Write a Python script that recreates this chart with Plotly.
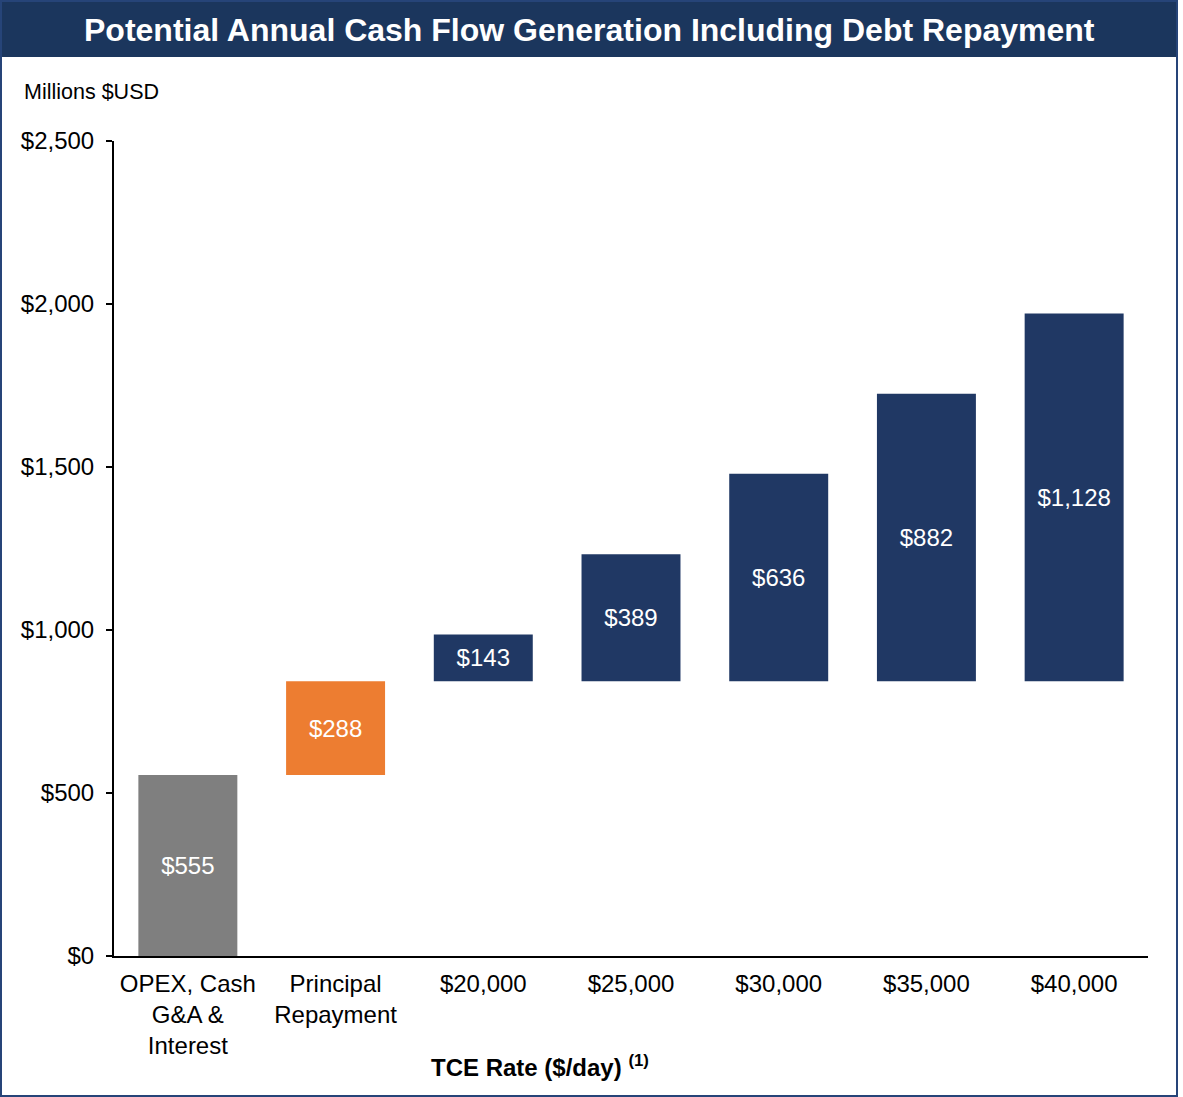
import plotly.graph_objects as go

# ---- data ----
categories = ["OPEX, Cash<br>G&A &<br>Interest", "Principal<br>Repayment",
              "$20,000", "$25,000", "$30,000", "$35,000", "$40,000"]
opex_value = 555
principal_value = 288
tce_values = [143, 389, 636, 882, 1128]
y_tickvals = [0, 500, 1000, 1500, 2000, 2500]
y_ticktext = ["$0", "$500", "$1,000", "$1,500", "$2,000", "$2,500"]

values = [opex_value, principal_value] + tce_values
breakeven = opex_value + principal_value
bases = [0, opex_value] + [breakeven] * len(tce_values)

GREY = "#7F7F7F"
ORANGE = "#ED7D31"
NAVY = "#203864"
TITLE_NAVY = "#1B365D"
BORDER = "#264478"
colors = [GREY, ORANGE] + [NAVY] * len(tce_values)

W, H = 1183, 1097
L, R, T, B = 114, 35, 141, 141
PW, PH = W - L - R, H - T - B


def px(x):
    return (x - L) / PW


def py(y):
    return (H - B - y) / PH


FONT = "Liberation Sans, Arial, sans-serif"

fig = go.Figure()
fig.add_trace(go.Bar(
    x=categories, y=values, base=bases,
    marker=dict(color=colors, line=dict(width=0)),
    text=[f"${v:,}" for v in values],
    textposition="inside", insidetextanchor="middle", textangle=0,
    textfont=dict(color="white", size=24, family=FONT),
    hoverinfo="skip", showlegend=False,
))

fig.update_layout(
    width=W, height=H,
    margin=dict(l=L, r=R, t=T, b=B),
    paper_bgcolor="white", plot_bgcolor="white",
    bargap=0.33,
    font=dict(family=FONT, color="black", size=24),
    uniformtext=dict(minsize=24, mode="show"),
    xaxis=dict(
        showline=True, linecolor="black", linewidth=2,
        ticks="", showgrid=False, zeroline=False,
        tickfont=dict(size=24, color="black"),
        ticklabelstandoff=5,
        fixedrange=True,
    ),
    yaxis=dict(
        range=[0, 2500], tickvals=y_tickvals, ticktext=y_ticktext,
        showline=True, linecolor="black", linewidth=2,
        ticks="outside", ticklen=6, tickwidth=2, tickcolor="black",
        showgrid=False, zeroline=False,
        tickfont=dict(size=24, color="black"),
        ticklabelstandoff=7,
        fixedrange=True,
    ),
    shapes=[
        dict(type="rect", xref="paper", yref="paper",
             x0=px(0), x1=px(1178), y0=py(57), y1=py(0),
             fillcolor=TITLE_NAVY, line=dict(width=0), layer="below"),
        dict(type="rect", xref="paper", yref="paper",
             x0=px(1), x1=px(1177), y0=py(1096), y1=py(1),
             fillcolor="rgba(0,0,0,0)", line=dict(color=BORDER, width=2)),
    ],
    annotations=[
        dict(text="<b>Potential Annual Cash Flow Generation Including Debt Repayment</b>",
             xref="paper", yref="paper", x=px(589), y=py(30),
             xanchor="center", yanchor="middle", showarrow=False,
             font=dict(size=32, color="white", family=FONT)),
        dict(text="Millions $USD", xref="paper", yref="paper",
             x=px(22), y=py(92), xanchor="left", yanchor="middle",
             showarrow=False, font=dict(size=21.5, color="black", family=FONT)),
        dict(text="<b>TCE Rate ($/day)</b> <b><sup>(1)</sup></b>",
             xref="paper", yref="paper", x=px(429), y=py(1066),
             xanchor="left", yanchor="middle", showarrow=False,
             font=dict(size=24, color="black", family=FONT)),
    ],
)

fig.write_html(
    "out.html",
    config={"displayModeBar": False},
    post_script="document.body.style.margin='0';document.body.style.padding='0';",
)
